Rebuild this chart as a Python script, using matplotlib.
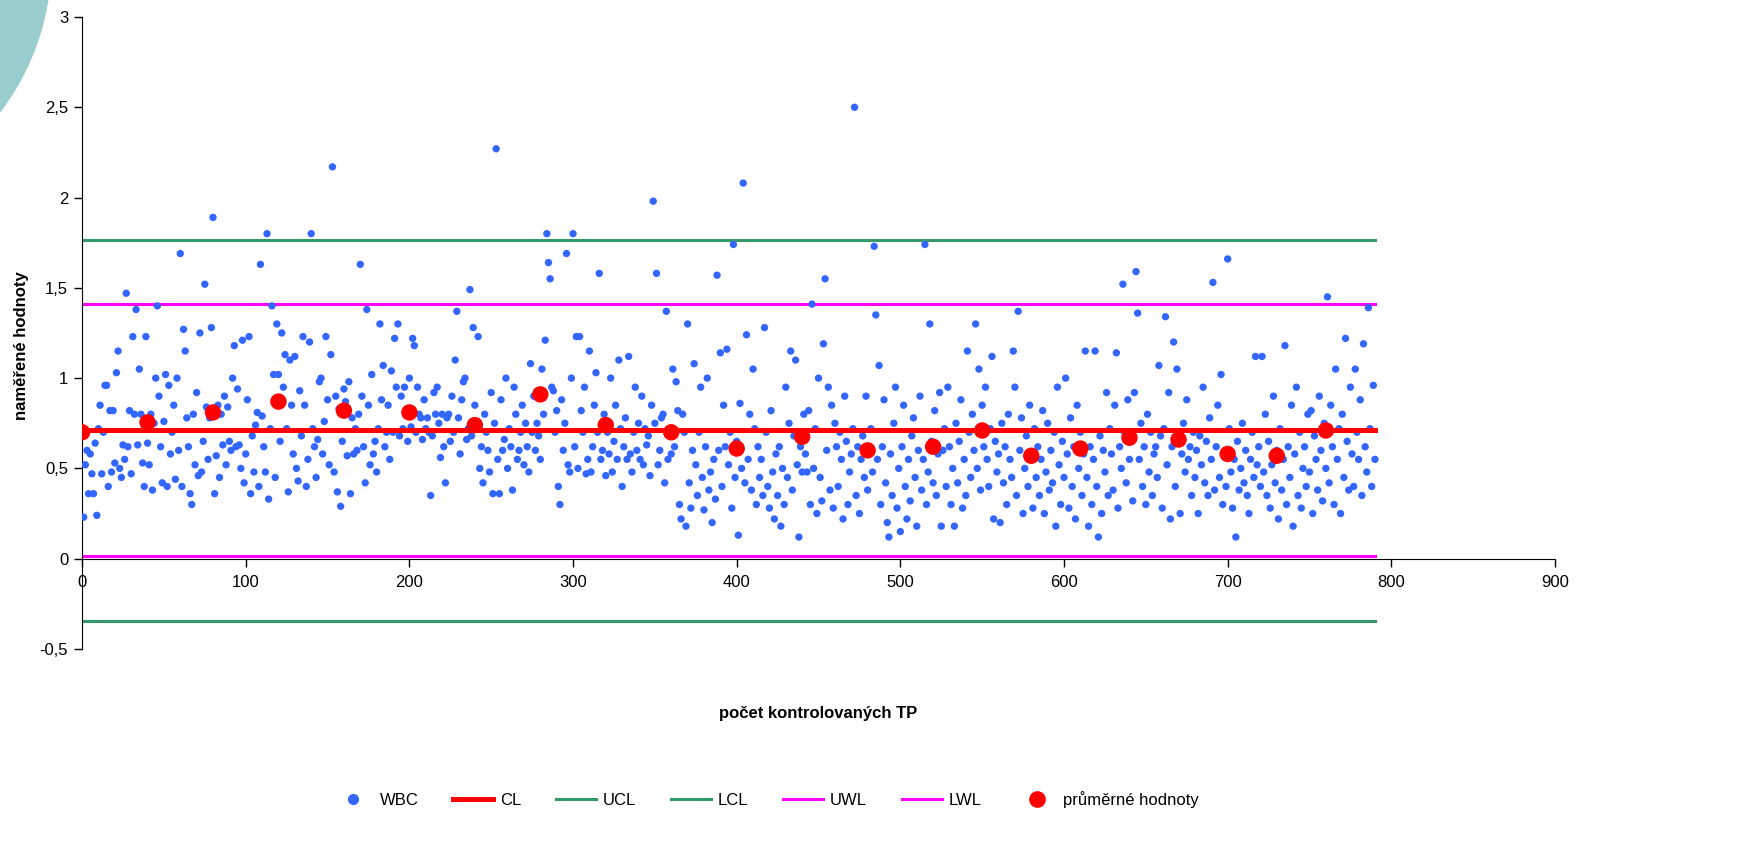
import matplotlib
matplotlib.use('Agg')
import matplotlib.pyplot as plt
from matplotlib.patches import Circle
from matplotlib.lines import Line2D
from matplotlib.transforms import IdentityTransform

plt.rcParams['font.family'] = ['Liberation Sans', 'DejaVu Sans']

# measured WBC values, one per checked unit (x = 1..n)
wbc = [
    0.23, 0.52, 0.60, 0.36, 0.58, 0.47, 0.36, 0.64, 0.24, 0.72, 0.85, 0.47, 0.70, 0.96, 0.96, 0.40, 0.82, 0.48, 0.82, 0.53,
    1.03, 1.15, 0.50, 0.45, 0.63, 0.55, 1.47, 0.62, 0.82, 0.47, 1.23, 0.80, 1.38, 0.63, 1.05, 0.80, 0.53, 0.40, 1.23, 0.64,
    0.52, 0.80, 0.38, 0.75, 1.00, 1.40, 0.90, 0.62, 0.42, 0.76, 1.02, 0.40, 0.96, 0.58, 0.70, 0.85, 0.44, 1.00, 0.60, 1.69,
    0.40, 1.27, 1.15, 0.78, 0.62, 0.36, 0.30, 0.80, 0.52, 0.92, 0.46, 1.25, 0.48, 0.65, 1.52, 0.84, 0.55, 0.78, 1.28, 1.89,
    0.36, 0.57, 0.85, 0.45, 0.80, 0.63, 0.90, 0.52, 0.84, 0.65, 0.60, 1.00, 1.18, 0.62, 0.94, 0.63, 0.50, 1.21, 0.42, 0.58,
    0.88, 1.23, 0.36, 0.68, 0.48, 0.74, 0.81, 0.40, 1.63, 0.79, 0.62, 0.48, 1.80, 0.33, 0.72, 1.40, 1.02, 0.45, 1.30, 1.02,
    0.65, 1.25, 0.95, 1.13, 0.72, 0.37, 1.10, 0.85, 0.58, 1.12, 0.50, 0.43, 0.93, 0.68, 1.23, 0.85, 0.40, 0.55, 1.20, 1.80,
    0.72, 0.62, 0.45, 0.66, 0.98, 1.00, 0.58, 0.76, 1.23, 0.88, 0.52, 1.13, 2.17, 0.48, 0.90, 0.37, 0.83, 0.29, 0.65, 0.94,
    0.87, 0.57, 0.98, 0.36, 0.78, 0.58, 0.72, 0.60, 0.80, 1.63, 0.90, 0.62, 0.42, 1.38, 0.85, 0.52, 1.02, 0.58, 0.65, 0.48,
    0.72, 1.30, 0.88, 1.07, 0.62, 0.70, 0.85, 0.55, 1.04, 0.70, 1.22, 0.95, 1.30, 0.68, 0.90, 0.72, 0.95, 0.80, 0.65, 1.00,
    0.73, 1.22, 1.18, 0.70, 0.95, 0.80, 0.78, 0.66, 0.88, 0.72, 0.78, 0.70, 0.35, 0.68, 0.92, 0.80, 0.95, 0.75, 0.56, 0.80,
    0.62, 0.42, 0.78, 0.80, 0.65, 0.90, 0.70, 1.10, 1.37, 0.78, 0.58, 0.88, 0.98, 1.00, 0.66, 0.72, 1.49, 0.68, 1.28, 0.85,
    0.75, 1.23, 0.50, 0.62, 0.42, 0.80, 0.70, 0.60, 0.48, 0.92, 0.36, 0.75, 2.27, 0.55, 0.36, 0.88, 0.60, 0.66, 1.00, 0.50,
    0.72, 0.62, 0.38, 0.95, 0.80, 0.55, 0.60, 0.70, 0.85, 0.52, 0.75, 0.62, 0.48, 1.08, 0.70, 0.90, 0.60, 0.75, 0.68, 0.55,
    1.05, 0.80, 1.21, 1.80, 1.64, 1.55, 0.95, 0.93, 0.70, 0.82, 0.40, 0.30, 0.88, 0.60, 0.75, 1.69, 0.52, 0.48, 1.00, 1.80,
    0.62, 1.23, 0.50, 1.23, 0.82, 0.70, 0.95, 0.47, 0.55, 1.15, 0.48, 0.62, 0.85, 1.03, 0.70, 1.58, 0.55, 0.60, 0.80, 0.46,
    0.70, 0.58, 1.00, 0.48, 0.65, 0.85, 0.55, 1.10, 0.72, 0.40, 0.62, 0.78, 0.55, 1.12, 0.58, 0.48, 0.70, 0.95, 0.60, 0.75,
    0.55, 0.90, 0.52, 0.72, 0.63, 0.68, 0.46, 0.85, 1.98, 0.75, 1.58, 0.52, 0.60, 0.78, 0.80, 0.42, 1.37, 0.55, 0.70, 0.58,
    1.05, 0.62, 0.98, 0.82, 0.30, 0.22, 0.80, 0.70, 0.18, 1.30, 0.42, 0.28, 0.60, 1.08, 0.52, 0.35, 0.70, 0.95, 0.45, 0.27,
    0.62, 1.00, 0.38, 0.48, 0.20, 0.55, 0.33, 1.57, 0.60, 1.14, 0.40, 0.85, 0.62, 1.16, 0.52, 0.70, 0.28, 1.74, 0.45, 0.65,
    0.13, 0.86, 0.50, 2.08, 0.42, 1.24, 0.55, 0.80, 0.38, 1.05, 0.72, 0.30, 0.62, 0.45, 0.55, 0.35, 1.28, 0.70, 0.40, 0.28,
    0.82, 0.48, 0.22, 0.58, 0.35, 0.62, 0.18, 0.50, 0.30, 0.95, 0.45, 0.75, 1.15, 0.38, 0.68, 1.10, 0.52, 0.12, 0.62, 0.48,
    0.80, 0.58, 0.48, 0.82, 0.30, 1.41, 0.50, 0.72, 0.25, 1.00, 0.45, 0.32, 1.19, 1.55, 0.60, 0.95, 0.38, 0.85, 0.28, 0.75,
    0.62, 0.40, 0.70, 0.55, 0.22, 0.90, 0.65, 0.30, 0.48, 0.58, 0.72, 2.50, 0.35, 0.62, 0.25, 0.55, 0.68, 0.45, 0.90, 0.38,
    0.60, 0.72, 0.48, 1.73, 1.35, 0.55, 1.07, 0.30, 0.62, 0.88, 0.42, 0.20, 0.12, 0.58, 0.35, 0.75, 0.95, 0.28, 0.50, 0.15,
    0.62, 0.85, 0.40, 0.22, 0.55, 0.32, 0.68, 0.78, 0.45, 0.18, 0.60, 0.90, 0.38, 0.55, 1.74, 0.30, 0.48, 1.30, 0.65, 0.42,
    0.82, 0.35, 0.58, 0.92, 0.18, 0.60, 0.72, 0.40, 0.95, 0.62, 0.30, 0.50, 0.18, 0.75, 0.42, 0.65, 0.88, 0.28, 0.55, 0.35,
    1.15, 0.70, 0.45, 0.80, 0.60, 1.30, 0.50, 1.05, 0.38, 0.85, 0.62, 0.95, 0.55, 0.40, 0.72, 1.12, 0.22, 0.65, 0.48, 0.58,
    0.20, 0.75, 0.42, 0.62, 0.30, 0.80, 0.55, 0.45, 1.15, 0.95, 0.35, 1.37, 0.60, 0.78, 0.25, 0.50, 0.68, 0.40, 0.85, 0.58,
    0.28, 0.72, 0.45, 0.62, 0.35, 0.55, 0.82, 0.25, 0.48, 0.75, 0.38, 0.60, 0.42, 0.70, 0.18, 0.95, 0.52, 0.30, 0.65, 0.45,
    1.00, 0.58, 0.28, 0.78, 0.40, 0.62, 0.22, 0.85, 0.50, 0.70, 0.35, 0.58, 1.15, 0.45, 0.18, 0.62, 0.30, 0.55, 1.15, 0.40,
    0.12, 0.68, 0.25, 0.60, 0.48, 0.92, 0.35, 0.72, 0.58, 0.38, 0.85, 1.14, 0.28, 0.62, 0.50, 1.52, 0.70, 0.42, 0.88, 0.55,
    0.65, 0.32, 0.92, 1.59, 1.36, 0.55, 0.75, 0.40, 0.62, 0.30, 0.80, 0.48, 0.70, 0.35, 0.58, 0.62, 0.45, 1.07, 0.68, 0.28,
    0.72, 1.34, 0.52, 0.92, 0.22, 0.62, 1.20, 0.40, 1.05, 0.65, 0.25, 0.58, 0.75, 0.48, 0.88, 0.55, 0.62, 0.35, 0.70, 0.45,
    0.60, 0.25, 0.68, 0.52, 0.95, 0.42, 0.65, 0.35, 0.78, 0.55, 1.53, 0.38, 0.62, 0.85, 0.45, 1.02, 0.30, 0.58, 0.40, 1.66,
    0.72, 0.48, 0.28, 0.55, 0.12, 0.65, 0.38, 0.50, 0.75, 0.42, 0.60, 0.35, 0.25, 0.55, 0.70, 0.45, 1.12, 0.52, 0.62, 0.40,
    1.12, 0.48, 0.80, 0.35, 0.65, 0.28, 0.52, 0.90, 0.42, 0.60, 0.22, 0.72, 0.38, 0.55, 1.18, 0.30, 0.62, 0.45, 0.85, 0.18,
    0.58, 0.95, 0.35, 0.70, 0.28, 0.50, 0.62, 0.40, 0.80, 0.48, 0.82, 0.25, 0.68, 0.55, 0.38, 0.90, 0.60, 0.32, 0.75, 0.50,
    1.45, 0.42, 0.85, 0.62, 0.30, 1.05, 0.55, 0.72, 0.25, 0.80, 0.45, 1.22, 0.65, 0.38, 0.95, 0.58, 0.40, 1.05, 0.70, 0.55,
    0.88, 0.35, 1.19, 0.62, 0.48, 1.39, 0.72, 0.40, 0.96, 0.55,
]

# group averages
avg_x = [0, 40, 80, 120, 160, 200, 240, 280, 320, 360, 400, 440, 480, 520,
         550, 580, 610, 640, 670, 700, 730, 760]
avg_y = [0.70, 0.755, 0.81, 0.87, 0.82, 0.81, 0.74, 0.91, 0.74, 0.70, 0.61, 0.675, 0.60, 0.62,
         0.71, 0.57, 0.61, 0.67, 0.66, 0.58, 0.57, 0.71]

# control limits
cl = 0.715
ucl = 1.765
lcl = -0.345
uwl = 1.41
lwl = 0.015
x_end = 790

blue = '#3366FF'
red = '#FF0000'
green = '#339966'
magenta = '#FF00FF'

fig = plt.figure(figsize=(17.65, 8.49), dpi=100)
ax = fig.add_axes([0.0465, 0.2356, 0.8345, 0.7444])

xs = list(range(1, len(wbc) + 1))
ax.plot([0, x_end], [ucl, ucl], color=green, lw=2.2, zorder=2)
ax.plot([0, x_end], [lcl, lcl], color=green, lw=2.2, zorder=2)
ax.plot([0, x_end], [uwl, uwl], color=magenta, lw=2.2, zorder=2)
ax.plot([0, x_end], [lwl, lwl], color=magenta, lw=2.2, zorder=2)
ax.scatter(xs, wbc, s=28, color=blue, edgecolors='none', zorder=3)
ax.plot([0, x_end], [cl, cl], color=red, lw=3.6, zorder=3.5)
ax.scatter(avg_x, avg_y, s=140, color=red, edgecolors='none', zorder=4)

ax.set_xlim(0, 900)
ax.set_ylim(-0.5, 3)
ax.set_xticks(range(0, 901, 100))
ax.set_yticks([-0.5, 0, 0.5, 1, 1.5, 2, 2.5, 3])
ax.set_yticklabels(['-0,5', '0', '0,5', '1', '1,5', '2', '2,5', '3'])
ax.spines['top'].set_visible(False)
ax.spines['right'].set_visible(False)
ax.spines['bottom'].set_position(('data', 0))
ax.tick_params(direction='out', length=6, width=1, labelsize=12, pad=4)
ax.tick_params(axis='x', pad=6)

fig.text(0.012, 0.5925, 'naměřené hodnoty', rotation=90, ha='center', va='center',
         fontsize=12, fontweight='bold')
fig.text(0.4635, 0.16, 'počet kontrolovaných TP', ha='center', va='center',
         fontsize=12, fontweight='bold')

handles = [
    Line2D([], [], ls='none', marker='o', ms=7, color=blue),
    Line2D([], [], color=red, lw=3.6),
    Line2D([], [], color=green, lw=2.2),
    Line2D([], [], color=green, lw=2.2),
    Line2D([], [], color=magenta, lw=2.2),
    Line2D([], [], color=magenta, lw=2.2),
    Line2D([], [], ls='none', marker='o', ms=11, color=red),
]
labels = ['WBC', 'CL', 'UCL', 'LCL', 'UWL', 'LWL', 'průměrné hodnoty']
fig.legend(handles, labels, loc='center', bbox_to_anchor=(0.434, 0.058), ncol=7,
           frameon=False, fontsize=12, handlelength=2.4, columnspacing=2.1, handletextpad=0.4)

# decorative circle in the top left corner
fig.add_artist(Circle((-200, 889), 251, transform=IdentityTransform(),
                      color='#99CCCC', zorder=0))

fig.savefig('out.png', dpi=100)
